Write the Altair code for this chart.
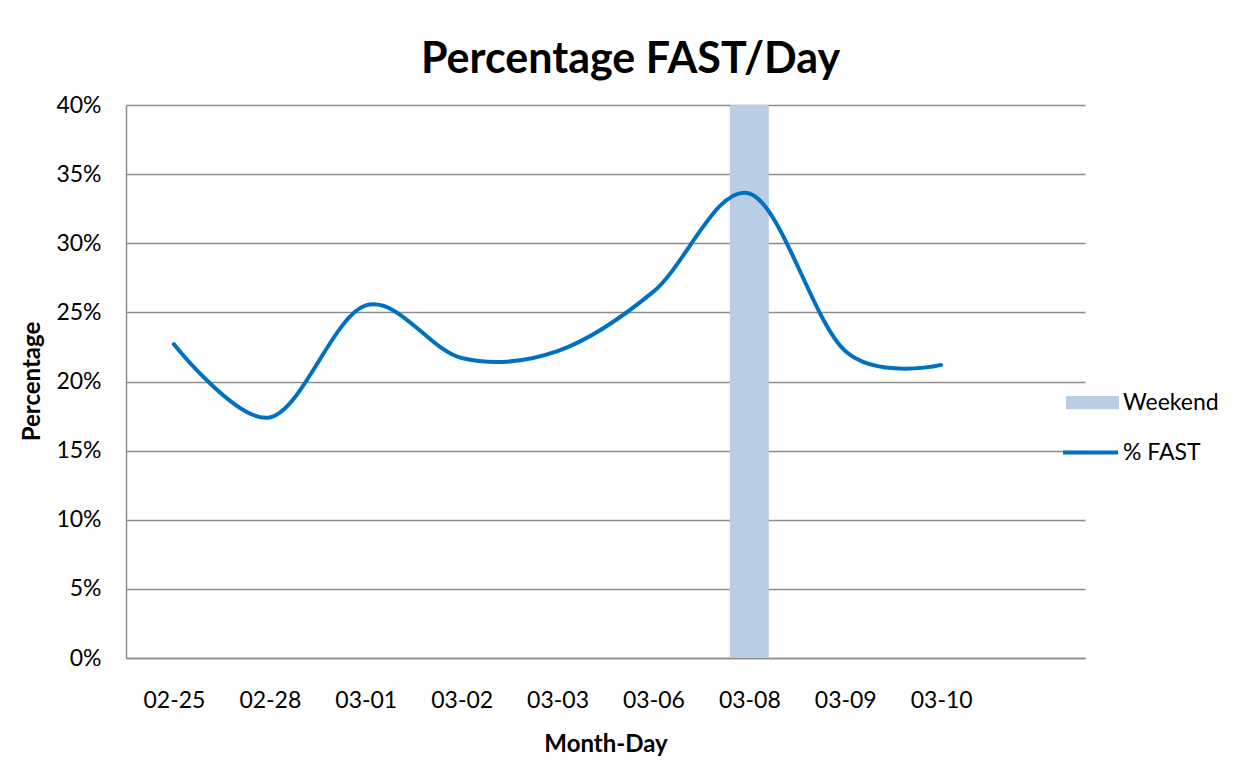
import altair as alt
import pandas as pd

categories = ["02-25", "02-28", "03-01", "03-02", "03-03", "03-06", "03-08", "03-09", "03-10"]
pct_fast = [0.227, 0.174, 0.255, 0.217, 0.222, 0.265, 0.336, 0.222, 0.212]
weekend_days = ["03-08"]
weekend_values = [0.40]
axis_domain = categories + [""]
y_ticks = [0.0, 0.05, 0.10, 0.15, 0.20, 0.25, 0.30, 0.35, 0.40]

FONT = "Lato"
GRID = "#8c8c8c"

line_df = pd.DataFrame({"day": categories, "pct": pct_fast, "series": ["% FAST"] * len(categories)})
bar_df = pd.DataFrame({"day": weekend_days, "pct": weekend_values, "series": ["Weekend"] * len(weekend_days)})

x_enc = alt.X(
    "day:N",
    sort=axis_domain,
    scale=alt.Scale(type="point", domain=axis_domain, padding=0.5),
    axis=alt.Axis(
        title="Month-Day", labelAngle=0, ticks=False, tickSize=0, grid=False,
        labelPadding=42, labelBaseline="middle", labelFont=FONT, labelFontSize=23,
        labelColor="#000000", domainColor=GRID, domainWidth=1.5,
        titleFont=FONT, titleFontSize=24, titleFontWeight="bold", titleColor="#000000",
        titleY=86, titleBaseline="middle",
    ),
)
y_enc = alt.Y(
    "pct:Q",
    scale=alt.Scale(domain=[0, 0.4], nice=False),
    axis=alt.Axis(
        title="Percentage", format=".0%", values=y_ticks, ticks=False, tickSize=0,
        grid=True, gridColor=GRID, gridWidth=1.5, domainColor=GRID, domainWidth=1.5,
        labelPadding=25, labelFont=FONT, labelFontSize=23, labelColor="#000000",
        titleFont=FONT, titleFontSize=24, titleFontWeight="bold", titleColor="#000000",
        titleX=-94, titleY=276, titleBaseline="middle", titleAlign="center", titleAngle=270,
    ),
)

bars = alt.Chart(bar_df).mark_bar(size=39).encode(
    x=x_enc,
    y=y_enc,
    fill=alt.Fill(
        "series:N",
        scale=alt.Scale(domain=["Weekend"], range=["#b9cde5"]),
        legend=alt.Legend(
            title=None, orient="none", legendX=940, legendY=271,
            symbolType="M-1,-0.25H1V0.25H-1Z", symbolSize=2809, symbolStrokeWidth=0,
            labelFont=FONT, labelFontSize=23, labelColor="#000000", labelOffset=4,
        ),
    ),
)

line = alt.Chart(line_df).mark_line(interpolate="cardinal", strokeWidth=4, strokeCap="round").encode(
    x=x_enc,
    y=y_enc,
    stroke=alt.Stroke(
        "series:N",
        scale=alt.Scale(domain=["% FAST"], range=["#0070c0"]),
        legend=alt.Legend(
            title=None, orient="none", legendX=935, legendY=318,
            symbolType="stroke", symbolSize=3025, symbolStrokeWidth=4,
            labelFont=FONT, labelFontSize=23, labelColor="#000000", labelOffset=3,
        ),
    ),
)

chart = alt.layer(bars, line).properties(
    width=959,
    height=553,
    autosize=alt.AutoSizeParams(type="none"),
    padding={"left": 118, "top": 97, "right": 159, "bottom": 98},
    background="#ffffff",
    title=alt.TitleParams(
        "Percentage FAST/Day", font=FONT, fontSize=43, fontWeight="bold",
        color="#000000", anchor="middle", dx=25, offset=12,
    ),
).configure_view(stroke="transparent")

chart.save("out.html", embed_options={"renderer": "svg", "actions": False})
